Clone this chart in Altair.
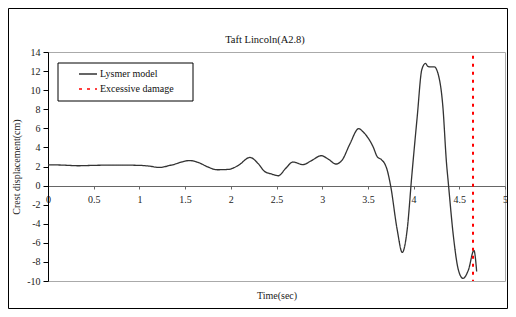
import altair as alt
import pandas as pd

# --- data ---
time_s = [0, 0.15, 0.33, 0.5, 0.75, 1.0, 1.1, 1.22, 1.35, 1.55, 1.65, 1.75, 1.85, 1.975,
          2.08, 2.21, 2.3, 2.37, 2.45, 2.52, 2.6, 2.68, 2.79, 2.88, 2.99, 3.07, 3.15, 3.22,
          3.3, 3.40, 3.45, 3.51, 3.56, 3.60, 3.65, 3.69, 3.71, 3.75, 3.82, 3.876, 3.93,
          3.98, 4.04, 4.09, 4.13, 4.155, 4.175, 4.225, 4.27, 4.32, 4.36, 4.38, 4.436, 4.49,
          4.54, 4.60, 4.66, 4.69]
disp_cm = [2.18, 2.15, 2.08, 2.12, 2.15, 2.12, 2.05, 1.9, 2.15, 2.62, 2.4, 1.95, 1.66, 1.7,
           2.1, 2.95, 2.3, 1.48, 1.2, 1.03, 1.8, 2.47, 2.2, 2.6, 3.13, 2.75, 2.26, 2.7,
           4.3, 5.97, 5.6, 4.88, 4.0, 3.06, 2.7, 2.18, 1.66, -0.1, -4.6, -7.0, -4.6,
           1.0, 7.26, 12.16, 12.8, 12.5, 12.45, 12.45, 11.64, 8.3, 2.36, 0.26, -5.35, -8.84,
           -9.72, -8.84, -6.8, -9.0]
series_names = ["Lysmer model", "Excessive damage"]
damage_time = [4.65]
damage_top = [13.6]
damage_bottom = [-10]
x_ticks = [0, 0.5, 1, 1.5, 2, 2.5, 3, 3.5, 4, 4.5, 5]
y_ticks = [-10, -8, -6, -4, -2, 0, 2, 4, 6, 8, 10, 12, 14]
chart_title = "Taft Lincoln(A2.8)"

FONT = "Liberation Serif"
TXT = "#222222"

line_df = pd.DataFrame({"t": time_s, "v": disp_cm, "series": series_names[0]})
rule_df = pd.DataFrame({"t": damage_time, "v": damage_top, "v2": damage_bottom,
                        "series": series_names[1]})

color_scale = alt.Scale(domain=series_names, range=["#333333", "#ff0000"])
dash_scale = alt.Scale(domain=series_names, range=[[1, 0], [3, 5]])
legend = alt.Legend(title=None, orient="none", legendX=30, legendY=12,
                    symbolType="stroke", symbolSize=324, symbolStrokeWidth=1.6,
                    labelFont=FONT, labelFontSize=10, labelColor="#111111",
                    labelOffset=2, rowPadding=0, padding=0)

x_axis = alt.Axis(title="Time(sec)", values=x_ticks, labelExpr="'' + datum.value",
                  offset=-95, grid=False, domainColor="#666666", tickColor="#666666",
                  tickSize=3, labelPadding=5, labelFlush=False,
                  labelOverlap=False, titlePadding=86,
                  labelFont=FONT, labelFontSize=10, labelColor=TXT,
                  titleFont=FONT, titleFontSize=10, titleFontWeight="normal",
                  titleColor=TXT)
y_axis = alt.Axis(title="Crest displacement(cm)", values=y_ticks,
                  labelExpr="'' + datum.value", grid=False,
                  domainColor="#000000", tickColor="#000000", tickSize=5,
                  labelPadding=3, titlePadding=5, labelOverlap=False,
                  labelFlush=False, labelBound=False,
                  labelFont=FONT, labelFontSize=10, labelColor=TXT,
                  titleFont=FONT, titleFontSize=10, titleFontWeight="normal",
                  titleColor=TXT)
x_scale = alt.Scale(domain=[0, 5], nice=False)
y_scale = alt.Scale(domain=[-10, 14], nice=False)

line = alt.Chart(line_df).mark_line(interpolate="monotone", strokeWidth=1.3).encode(
    x=alt.X("t:Q", scale=x_scale, axis=x_axis),
    y=alt.Y("v:Q", scale=y_scale, axis=y_axis),
    color=alt.Color("series:N", scale=color_scale, legend=legend),
    strokeDash=alt.StrokeDash("series:N", scale=dash_scale, legend=legend),
)

rule = alt.Chart(rule_df).mark_rule(strokeWidth=2).encode(
    x=alt.X("t:Q", scale=x_scale, axis=x_axis),
    y=alt.Y("v:Q", scale=y_scale, axis=y_axis),
    y2="v2:Q",
    color=alt.Color("series:N", scale=color_scale, legend=legend),
    strokeDash=alt.StrokeDash("series:N", scale=dash_scale, legend=legend),
)

frame_df = pd.DataFrame({"k": [0]})
title_df = pd.DataFrame({"label": [chart_title]})
legend_box = alt.Chart(frame_df).mark_rect(fill="white", stroke="#000000", strokeWidth=1).encode(
    x=alt.value(10), x2=alt.value(145), y=alt.value(11), y2=alt.value(49))
outer_box = alt.Chart(frame_df).mark_rect(fill=None, fillOpacity=0, stroke="#000000",
                                         strokeWidth=1, clip=False).encode(
    x=alt.value(-39.5), x2=alt.value(459.5), y=alt.value(-43.5), y2=alt.value(256.5))
title_mark = alt.Chart(title_df).mark_text(font=FONT, fontSize=10.5, color="#111111",
                                           align="center", baseline="middle").encode(
    text="label:N", x=alt.value(217), y=alt.value(-12))

chart = alt.layer(legend_box, line, rule, outer_box, title_mark).properties(
    width=457, height=229,
    autosize=alt.AutoSizeParams(type="none"),
    padding={"left": 40, "top": 44, "right": 3, "bottom": 28},
    background="white",
).configure_view(stroke="#aaaaaa", strokeWidth=1).configure_axis(labelOverlap=False)

chart.save("out.html", embed_options={"renderer": "svg", "actions": False})
